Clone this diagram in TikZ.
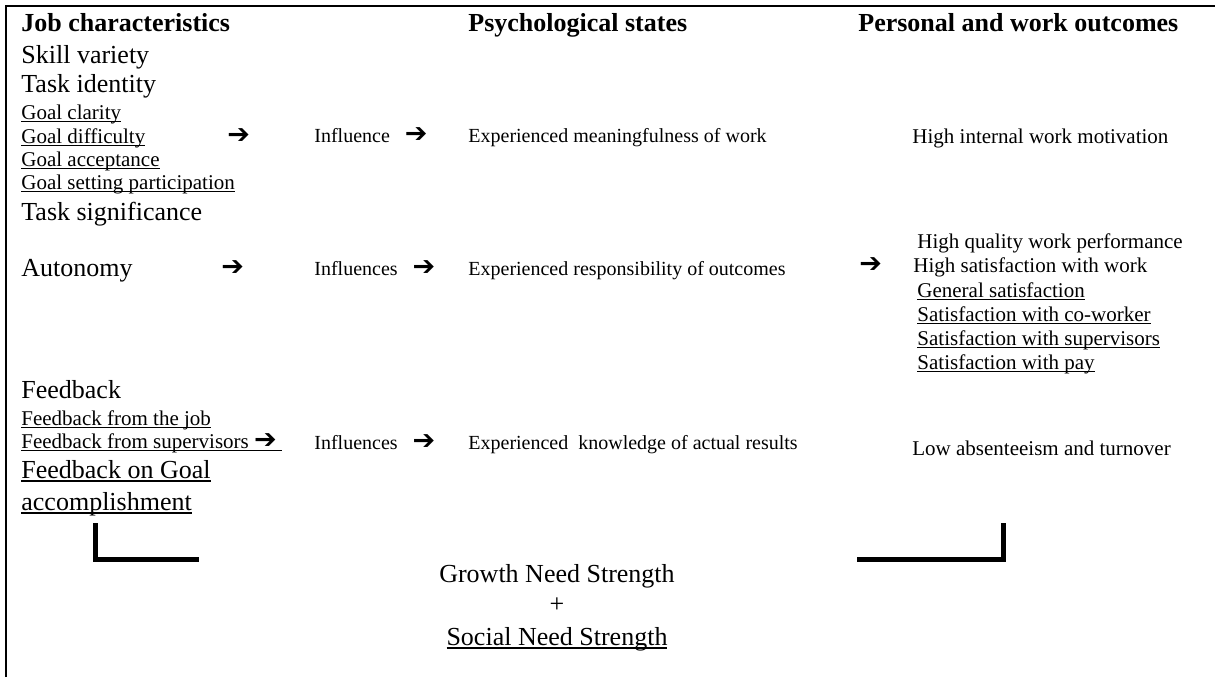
\documentclass[tikz,border=0pt]{standalone}
\usepackage{fontspec}
\setmainfont{Liberation Serif}
\newfontfamily\arrowfont{DejaVu Sans}
\newcommand{\arr}{{\arrowfont\bfseries\fontsize{13.5}{14}\selectfont ➔}}
\newsavebox\ulbox
\newcommand{\undl}[1]{\sbox\ulbox{#1}\rlap{\rule[-1.3pt]{\wd\ulbox}{0.55pt}}\usebox\ulbox}
\newcommand{\undlbig}[1]{\sbox\ulbox{#1}\rlap{\rule[-1.8pt]{\wd\ulbox}{0.8pt}}\usebox\ulbox}

\begin{document}
\begin{tikzpicture}[x=0.5pt,y=-0.5pt,
  every node/.style={inner sep=0pt,anchor=base west},
  headtxt/.style={font=\fontsize{13}{15}\selectfont\bfseries},
  bigtxt/.style={font=\fontsize{13}{15}\selectfont},
  smalltxt/.style={font=\fontsize{10.5}{12}\selectfont},
  midtxt/.style={font=\fontsize{10}{12}\selectfont},
  bracket/.style={line width=2.5pt}]
  \useasboundingbox (0,0) rectangle (1215,677);

  % frame, top and left only
  \draw [line width=1pt] (5.5,677) -- (5.5,6) -- (1215,6);

  % headings
  \node [headtxt] (hjob) at (21,31) {Job characteristics};
  \node [headtxt] (hpsy) at (468,31) {Psychological states};
  \node [headtxt] (hout) at (858,31) {Personal and work outcomes};

  % job characteristics
  \node [bigtxt] (skill) at (21,63) {Skill variety};
  \node [bigtxt] (taskid) at (21,92) {Task identity};
  \node [smalltxt] (gclar) at (21,119) {\undl{Goal clarity}};
  \node [smalltxt] (gdiff) at (21,143) {\undl{Goal difficulty}};
  \node [smalltxt] (arrgoal) at (227,143) {\arr};
  \node [smalltxt] (gacc) at (21,166) {\undl{Goal acceptance}};
  \node [smalltxt] (gset) at (21,189) {\undl{Goal setting participation}};
  \node [bigtxt] (tsig) at (21,220) {Task significance};
  \node [bigtxt] (auton) at (21,276) {Autonomy};
  \node [smalltxt] (arrauto) at (221,275) {\arr};
  \node [bigtxt] (fb) at (21,398) {Feedback};
  \node [smalltxt] (fbjob) at (21,425) {\undl{Feedback from the job}};
  \node [smalltxt] (fbsup) at (21,448) {\undl{Feedback from supervisors \arr\ }};
  \node [bigtxt] (fbgoal) at (21,478) {\undlbig{Feedback on Goal}};
  \node [bigtxt] (fbacc) at (21,510) {\undlbig{accomplishment}};

  % influences
  \node [midtxt] (infa) at (314,142) {Influence \ \ \arr};
  \node [midtxt] (infb) at (314,275) {Influences \ \ \arr};
  \node [midtxt] (infc) at (314,449) {Influences \ \ \arr};

  % psychological states
  \node [midtxt] (expa) at (468,142) {Experienced meaningfulness of work};
  \node [midtxt] (expb) at (468,275) {Experienced responsibility of outcomes};
  \node [midtxt] (expc) at (468,449) {Experienced~\ knowledge of actual results};

  % outcomes
  \node [smalltxt] (outa) at (912,143) {High internal work motivation};
  \node [smalltxt] (outb) at (917,248) {High quality work performance};
  \node [smalltxt] (arrout) at (859,272) {\arr};
  \node [smalltxt] (outc) at (913,272) {High satisfaction with work};
  \node [smalltxt] (satgen) at (917,297) {\undl{General satisfaction}};
  \node [smalltxt] (satcow) at (917,321) {\undl{Satisfaction with co-worker}};
  \node [smalltxt] (satsup) at (917,345) {\undl{Satisfaction with supervisors}};
  \node [smalltxt] (satpay) at (917,369) {\undl{Satisfaction with pay}};
  \node [smalltxt] (outd) at (912,455) {Low absenteeism and turnover};

  % moderators
  \draw [bracket] (95.5,523) |- (199,559);
  \draw [bracket] (857,559) -| (1003.5,523);
  \node [bigtxt,anchor=base] (gns) at (557,582) {Growth Need Strength};
  \node [bigtxt,anchor=base] (plus) at (557,612) {+};
  \node [bigtxt,anchor=base] (sns) at (557,645) {\undlbig{Social Need Strength}};
\end{tikzpicture}
\end{document}
